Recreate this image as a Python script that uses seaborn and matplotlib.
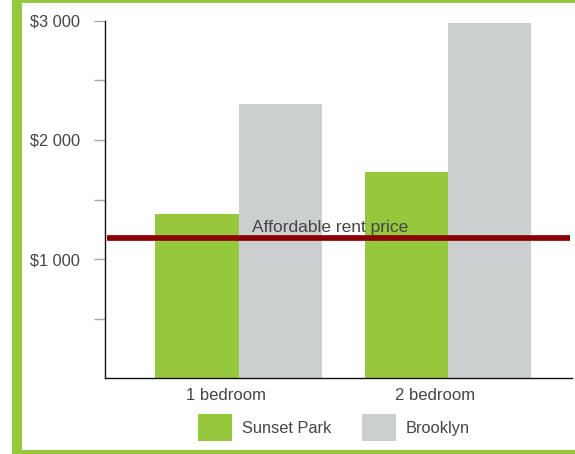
import matplotlib
matplotlib.use("Agg")
import matplotlib.pyplot as plt
from matplotlib.patches import Rectangle, Patch
import seaborn as sns
import pandas as pd

# ---- data ----
categories = ["1 bedroom", "2 bedroom"]
series_names = ["Sunset Park", "Brooklyn"]
sunset_park = [1380, 1730]
brooklyn = [2300, 2980]
affordable_rent = 1180
affordable_label = "Affordable rent price"
y_ticks = [500, 1000, 1500, 2000, 2500, 3000]
y_tick_labels = ["", "$1 000", "", "$2 000", "", "$3 000"]

GREEN = "#95C83C"
GREY = "#CCCFD0"
DARKRED = "#8B0000"
TEXT = "#454545"

df = pd.DataFrame({
    "category": categories * 2,
    "area": [series_names[0]] * len(categories) + [series_names[1]] * len(categories),
    "rent": sunset_park + brooklyn,
})

sns.set_style("white")
plt.rcParams["font.family"] = ["Liberation Sans", "DejaVu Sans"]

W, H = 575, 454
fig = plt.figure(figsize=(W / 100, H / 100), dpi=100)
ax = fig.add_axes([104.7 / W, 1 - 378.3 / H, (572 - 104.7) / W, (378.3 - 20.7) / H])

sns.barplot(data=df, x="category", y="rent", hue="area", order=categories,
            hue_order=series_names, palette=[GREEN, GREY], width=0.795,
            gap=0, saturation=1, linewidth=0, ax=ax, legend=False)

ax.set_xlim(-0.640, 1.592)
ax.set_ylim(0, 3000)

# affordable line and label
ax.axhline(affordable_rent, xmin=0.005, xmax=0.996, color=DARKRED, lw=4.1,
           solid_capstyle="butt", zorder=5)
ax.annotate(affordable_label, xy=(0.436, affordable_rent), xytext=(0, 4.3),
            textcoords="offset points", ha="center", va="baseline",
            fontsize=12.5, color=TEXT, zorder=6)

# axes styling
for s in ["top", "right"]:
    ax.spines[s].set_visible(False)
for s in ["left", "bottom"]:
    ax.spines[s].set_color("#111111")
    ax.spines[s].set_linewidth(1.0)

ax.set_yticks(y_ticks)
ax.set_yticklabels(y_tick_labels)
ax.tick_params(axis="y", length=8, width=1, color="#AAAAAA", pad=10,
               labelsize=11.8, labelcolor=TEXT, left=True)
ax.set_xticks([i - 0.06 for i in range(len(categories))])
ax.set_xticklabels(categories)
ax.tick_params(axis="x", length=0, pad=7, labelsize=12, labelcolor=TEXT)
ax.set_xlabel("")
ax.set_ylabel("")

# legend below
handles = [Patch(facecolor=GREEN, edgecolor="none"), Patch(facecolor=GREY, edgecolor="none")]
fig.legend(handles, series_names, loc="center", bbox_to_anchor=(334 / W, 1 - 427.5 / H),
           ncol=2, frameon=False, fontsize=11.8, labelcolor=TEXT,
           handlelength=2.1, handleheight=2.1, handletextpad=0.6,
           columnspacing=1.85, borderpad=0, borderaxespad=0)

# green frame
def px_rect(x0, y0, x1, y1):
    fig.patches.append(Rectangle((x0 / W, 1 - y1 / H), (x1 - x0) / W, (y1 - y0) / H,
                                 transform=fig.transFigure, facecolor=GREEN,
                                 edgecolor="none", zorder=0))

px_rect(12, 0, W, 3.2)
px_rect(12, 0, 22, H)
px_rect(12, 449.5, W, H)

fig.savefig("out.png", dpi=100)
